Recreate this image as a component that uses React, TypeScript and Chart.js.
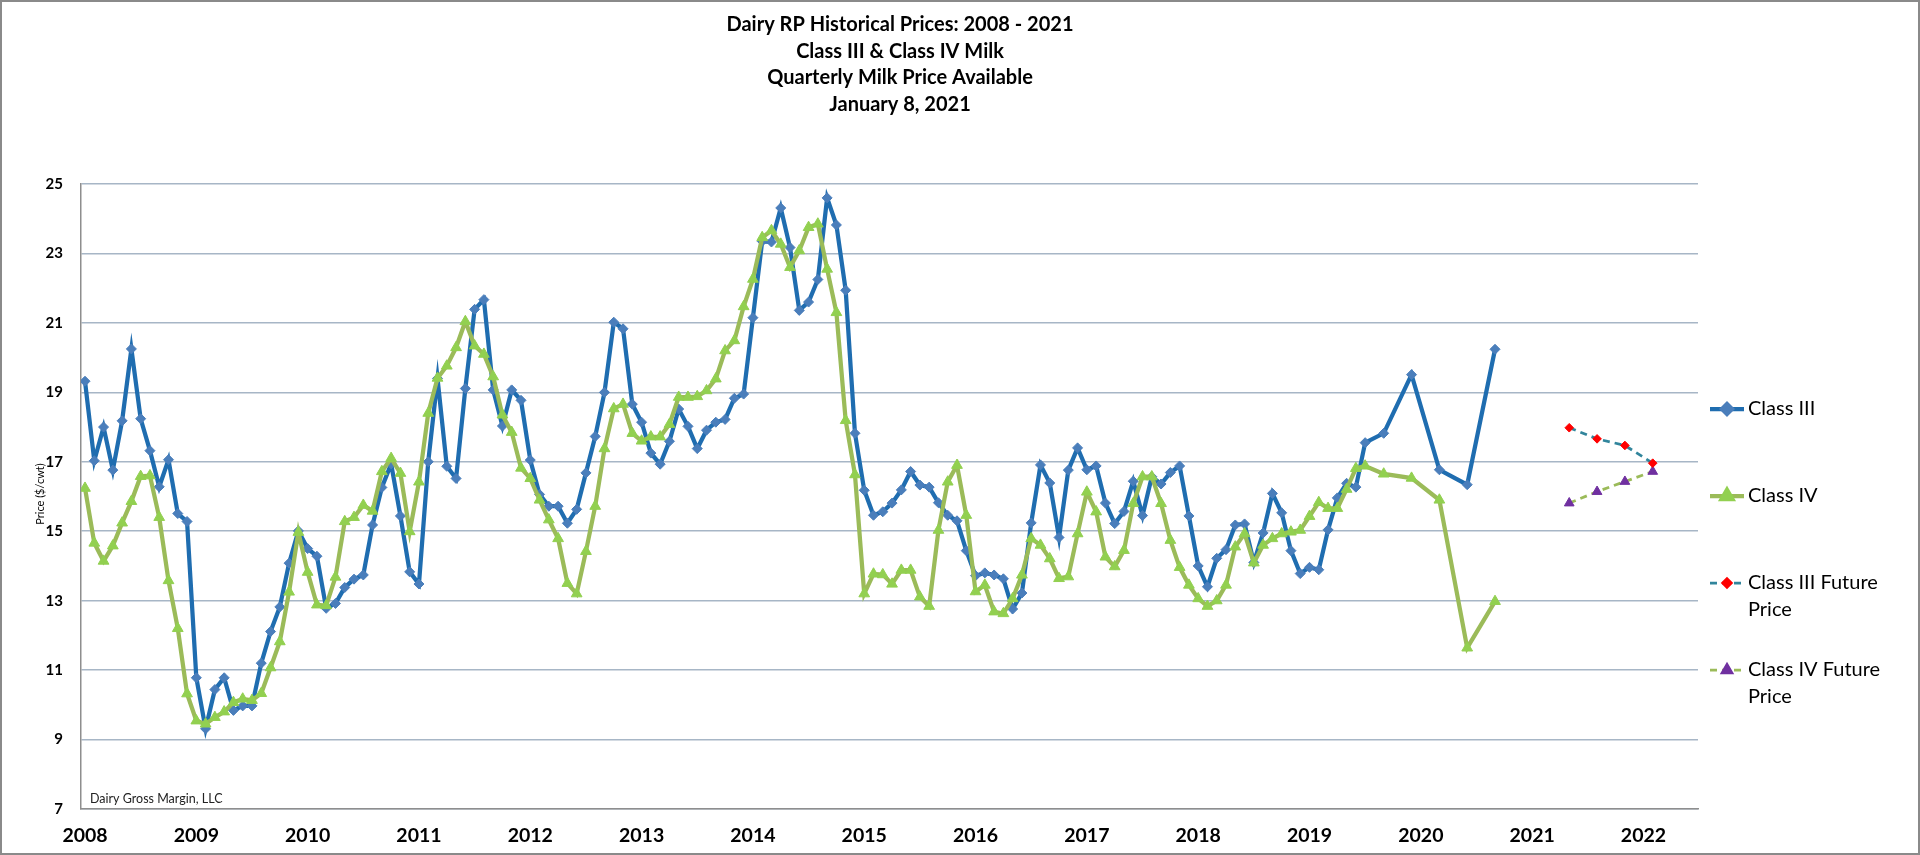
import { useEffect, useRef } from "react"
import { Chart, registerables } from "chart.js"
import { drawPoint } from "chart.js/helpers"

Chart.register(...registerables)

// monthly series start in January 2008
const monthlyStart = 2008

const classIIIMonthly = [
  19.32, 17.03, 18.0, 16.76, 18.18, 20.25, 18.24, 17.32, 16.28, 17.06, 15.51, 15.28,
  10.78, 9.31, 10.44, 10.78, 9.84, 9.97, 9.97, 11.2, 12.11, 12.82, 14.08, 15.01,
  14.5, 14.28, 12.78, 12.92, 13.38, 13.62, 13.74, 15.18, 16.26, 16.94, 15.44, 13.83,
  13.48, 17.0, 19.4, 16.87, 16.52, 19.11, 21.39, 21.67, 19.07, 18.03, 19.07, 18.77,
  17.05, 16.06, 15.72, 15.72, 15.23, 15.63, 16.68, 17.73, 19.0, 21.02, 20.83, 18.66,
  18.14, 17.25, 16.93, 17.59, 18.52, 18.02, 17.38, 17.91, 18.14, 18.22, 18.83, 18.95,
  21.15, 23.35, 23.33, 24.31, 23.17, 21.36, 21.6, 22.25, 24.6, 23.82, 21.94, 17.82,
  16.18, 15.46, 15.56, 15.81, 16.19, 16.72, 16.33, 16.27, 15.82, 15.46, 15.3, 14.44,
  13.72, 13.8, 13.74, 13.63, 12.76, 13.22, 15.24, 16.91, 16.39, 14.82, 16.76, 17.4,
  16.77, 16.88, 15.81, 15.22, 15.57, 16.44, 15.45, 16.57, 16.36, 16.69, 16.88, 15.44,
  14.0, 13.4, 14.22, 14.47, 15.18, 15.21, 14.1, 14.95, 16.09, 15.53, 14.44, 13.78,
  13.96, 13.89, 15.04, 15.96, 16.38, 16.27, 17.55,
]

const classIVMonthly = [
  16.24, 14.66, 14.14, 14.58, 15.24, 15.86, 16.58, 16.6, 15.4, 13.58, 12.2, 10.32,
  9.54, 9.45, 9.64, 9.8, 10.07, 10.17, 10.13, 10.33, 11.07, 11.82, 13.25, 14.97,
  13.82, 12.88, 12.86, 13.68, 15.28, 15.4, 15.75, 15.58, 16.72, 17.1, 16.67, 14.99,
  16.42, 18.4, 19.41, 19.76, 20.29, 21.04, 20.34, 20.1, 19.45, 18.35, 17.85, 16.82,
  16.52, 15.9, 15.33, 14.79, 13.5, 13.2, 14.42, 15.72, 17.38, 18.53, 18.66, 17.82,
  17.6, 17.72, 17.72, 18.08, 18.86, 18.86, 18.88, 19.05, 19.39, 20.2, 20.49, 21.47,
  22.26, 23.46, 23.66, 23.27, 22.6, 23.08, 23.75, 23.85, 22.55, 21.3, 18.19, 16.63,
  13.2, 13.77, 13.75, 13.48, 13.88, 13.88, 13.11, 12.84, 15.03, 16.42, 16.9, 15.46,
  13.26, 13.45, 12.68, 12.63, 13.06, 13.74, 14.79, 14.6, 14.21, 13.64, 13.69, 14.93,
  16.13, 15.56, 14.26, 13.98, 14.45, 15.8, 16.57, 16.57, 15.8, 14.74, 13.96, 13.45,
  13.06, 12.84, 13.0, 13.45, 14.55, 14.93, 14.09, 14.6, 14.79, 14.93, 14.98, 15.03,
  15.43, 15.83, 15.66, 15.66, 16.21, 16.81, 16.88,
]

// quarterly prices, plotted at the quarter's last month
const quarterDates = ["2019-09", "2019-12", "2020-03", "2020-06", "2020-09"]
const classIIIQuarterly = [17.82, 19.51, 16.77, 16.34, 20.24]
const classIVQuarterly = [16.65, 16.53, 15.9, 11.64, 12.98]

// futures, plotted at mid-quarter
const futureDates = ["2021-05", "2021-08", "2021-11", "2022-02"]
const classIIIFuture = [17.98, 17.66, 17.47, 16.96]
const classIVFuture = [15.81, 16.14, 16.43, 16.72]

const titleLines = [
  "Dairy RP Historical Prices: 2008 - 2021",
  "Class III & Class IV Milk",
  "Quarterly Milk Price Available",
  "January 8, 2021",
]

const legendLabels = [["Class III"], ["Class IV"], ["Class III Future", "Price"], ["Class IV Future", "Price"]]

const FONT = "Lato, 'Open Sans', sans-serif"

const toYear = (d: string) => {
  const [y, m] = d.split("-").map(Number)
  return y + (m - 1) / 12
}

const monthly = (values: number[]) => values.map((v, i) => ({ x: monthlyStart + i / 12, y: v }))
const dated = (dates: string[], values: number[]) => dates.map((d, i) => ({ x: toYear(d), y: values[i] }))

const decorPlugin = {
  id: "decor",
  beforeDraw(chart: any) {
    const { ctx, width, height } = chart
    ctx.save()
    ctx.fillStyle = "#ffffff"
    ctx.fillRect(0, 0, width, height)
    ctx.restore()
  },
  afterDraw(chart: any) {
    const { ctx, width, height } = chart
    ctx.save()

    // title
    ctx.fillStyle = "#000"
    ctx.textAlign = "center"
    ctx.textBaseline = "alphabetic"
    ctx.font = `bold 20px ${FONT}`
    titleLines.forEach((line, i) => ctx.fillText(line, 900, 31 + i * 26.7))

    // axis title
    ctx.save()
    ctx.translate(40, 494)
    ctx.rotate(-Math.PI / 2)
    ctx.font = `11px ${FONT}`
    ctx.textBaseline = "middle"
    ctx.fillText("Price ($/cwt)", 0, 0)
    ctx.restore()

    // source note
    ctx.textAlign = "left"
    ctx.font = `12.5px ${FONT}`
    ctx.fillStyle = "#222"
    ctx.fillText("Dairy Gross Margin, LLC", 90, 803)

    // legend
    ctx.font = `20px ${FONT}`
    ctx.fillStyle = "#000"
    ctx.textBaseline = "middle"
    legendLabels.forEach((lines, i) => {
      const ds = chart.data.datasets[i]
      const y = 409 + i * 87
      ctx.save()
      ctx.strokeStyle = ds.borderColor
      ctx.lineWidth = ds.borderWidth
      ctx.setLineDash(ds.borderDash || [])
      ctx.beginPath()
      ctx.moveTo(1710, y)
      ctx.lineTo(1744, y)
      ctx.stroke()
      ctx.setLineDash([])
      ctx.fillStyle = ds.pointBackgroundColor
      ctx.strokeStyle = ds.pointBorderColor
      drawPoint(ctx, { pointStyle: ds.pointStyle, radius: ds.pointRadius, borderWidth: 1, rotation: 0 }, 1727, y)
      ctx.restore()
      lines.forEach((t, j) => ctx.fillText(t, 1748, y + j * 27))
    })

    // outer border
    ctx.strokeStyle = "#8a8a8a"
    ctx.lineWidth = 2
    ctx.strokeRect(1, 1, width - 2, height - 2)
    ctx.restore()
  },
}

export default function App() {
  const chartRef = useRef<HTMLCanvasElement>(null)
  const chartInstance = useRef<Chart | null>(null)

  useEffect(() => {
    if (!chartRef.current) return
    if (chartInstance.current) chartInstance.current.destroy()

    const ctx = chartRef.current.getContext("2d")
    if (!ctx) return

    chartInstance.current = new Chart(ctx, {
      type: "line",
      data: {
        datasets: [
          {
            label: "Class III",
            data: [...monthly(classIIIMonthly), ...dated(quarterDates, classIIIQuarterly)],
            borderColor: "#1F6DB0",
            borderWidth: 4.25,
            pointStyle: "rectRot",
            pointRadius: 5,
            pointBackgroundColor: "#4A7EBB",
            pointBorderColor: "#4A7EBB",
            pointBorderWidth: 1,
            order: 2,
          },
          {
            label: "Class IV",
            data: [...monthly(classIVMonthly), ...dated(quarterDates, classIVQuarterly)],
            borderColor: "#9BBB59",
            borderWidth: 4.25,
            pointStyle: "triangle",
            pointRadius: 6.2,
            pointBackgroundColor: "#92D050",
            pointBorderColor: "#92D050",
            pointBorderWidth: 1,
            order: 1,
          },
          {
            label: "Class III Future Price",
            data: dated(futureDates, classIIIFuture),
            borderColor: "#31859C",
            borderWidth: 2.75,
            borderDash: [7, 5],
            pointStyle: "rectRot",
            pointRadius: 4.3,
            pointBackgroundColor: "#FF0000",
            pointBorderColor: "#FF0000",
            pointBorderWidth: 1,
            order: 0,
          },
          {
            label: "Class IV Future Price",
            data: dated(futureDates, classIVFuture),
            borderColor: "#9BBB59",
            borderWidth: 2.75,
            borderDash: [7, 5],
            pointStyle: "triangle",
            pointRadius: 5.6,
            pointBackgroundColor: "#7030A0",
            pointBorderColor: "#7030A0",
            pointBorderWidth: 1,
            order: 0,
          },
        ],
      },
      options: {
        responsive: true,
        maintainAspectRatio: false,
        animation: false,
        layout: { padding: { top: 184, right: 222, left: 0, bottom: 0 } },
        scales: {
          x: {
            type: "linear",
            min: 2007.964,
            max: 2022.49,
            afterFit: (scale: any) => {
              scale.height = 46
            },
            grid: { display: false, drawTicks: false },
            border: { display: true, color: "#8e8e8e", width: 1.5 },
            ticks: {
              stepSize: 1,
              includeBounds: false,
              padding: 15,
              color: "#000",
              font: { family: FONT, size: 19.5, weight: "bold" },
              callback: (value: any) => String(value),
            },
          },
          y: {
            min: 7,
            max: 25,
            afterFit: (scale: any) => {
              scale.width = 81
            },
            grid: { color: "#A7B6C6", lineWidth: 1.5, drawTicks: false },
            border: { display: true, color: "#8e8e8e", width: 1.5 },
            ticks: {
              stepSize: 2,
              padding: 18,
              color: "#000",
              font: { family: FONT, size: 15, weight: "bold" },
            },
          },
        },
        plugins: {
          legend: { display: false },
          title: { display: false },
          tooltip: { enabled: false },
        },
      },
      plugins: [decorPlugin],
    })

    return () => {
      if (chartInstance.current) {
        chartInstance.current.destroy()
        chartInstance.current = null
      }
    }
  }, [])

  return (
    <div style={{ position: "absolute", left: 0, top: 0, width: 1920, height: 855 }}>
      <canvas ref={chartRef} />
    </div>
  )
}
